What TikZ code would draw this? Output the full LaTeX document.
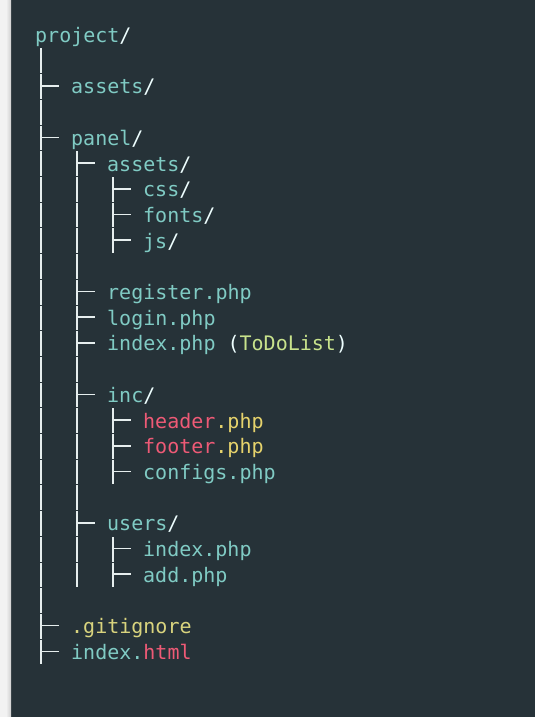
\documentclass[tikz,border=0pt]{standalone}
\usepackage{fontspec}
\setmonofont{DejaVu Sans Mono}
\definecolor{panelbg}{HTML}{263238}
\definecolor{stripbg}{HTML}{F2F2F2}
\definecolor{stripsh}{HTML}{CFCFCF}
\definecolor{tealtx}{HTML}{80CBC4}
\definecolor{whtx}{HTML}{EEFFFF}
\definecolor{redtx}{HTML}{EE5A76}
\definecolor{yeltx}{HTML}{E6D36C}
\definecolor{olitx}{HTML}{D9D47E}
\definecolor{grntx}{HTML}{C8E38C}
\definecolor{linecol}{HTML}{E6EEEE}
\newcommand\cTeal[1]{{\color{tealtx}#1}}
\newcommand\cWht[1]{{\color{whtx}#1}}
\newcommand\cRed[1]{{\color{redtx}#1}}
\newcommand\cYel[1]{{\color{yeltx}#1}}
\newcommand\cOli[1]{{\color{olitx}#1}}
\newcommand\cGrn[1]{{\color{grntx}#1}}
\begin{document}
\begin{tikzpicture}[x=1pt,y=-1pt,
  entry/.style={anchor=west, inner sep=0pt, text=tealtx,
    font=\ttfamily\fontsize{20}{24}\selectfont, text height=20pt, text depth=4pt},
  trunk/.style={draw=linecol, line width=1.6pt, dash pattern=on 24.7pt off 1pt},
  branch/.style={draw=linecol, line width=1.6pt}]
\useasboundingbox (0,0) rectangle (535,717);
% background
\fill[panelbg] (0,0) rectangle (535,717);
\fill[stripbg] (0,0) rectangle (11,717);
\shade[left color=stripbg, right color=stripsh] (6,0) rectangle (11,717);

% entries
\node[entry] (project) at (35,34.5) {\cTeal{project}\cWht{/}};
\node[entry] (assets)  at (71,85.9) {\cTeal{assets}\cWht{/}};
\node[entry] (panel)   at (71,137.3) {\cTeal{panel}\cWht{/}};
\node[entry] (passets) at (107,163.0) {\cTeal{assets}\cWht{/}};
\node[entry] (css)     at (143,188.7) {\cTeal{css}\cWht{/}};
\node[entry] (fonts)   at (143,214.4) {\cTeal{fonts}\cWht{/}};
\node[entry] (js)      at (143,240.1) {\cTeal{js}\cWht{/}};
\node[entry] (register) at (107,291.5) {\cTeal{register.php}};
\node[entry] (login)   at (107,317.2) {\cTeal{login.php}};
\node[entry] (pindex)  at (107,342.9) {\cTeal{index.php} \cWht{(}\cGrn{ToDoList}\cWht{)}};
\node[entry] (inc)     at (107,394.3) {\cTeal{inc}\cWht{/}};
\node[entry] (header)  at (143,420.0) {\cRed{header}\cYel{.php}};
\node[entry] (footer)  at (143,445.7) {\cRed{footer}\cYel{.php}};
\node[entry] (configs) at (143,471.4) {\cTeal{configs.php}};
\node[entry] (users)   at (107,522.8) {\cTeal{users}\cWht{/}};
\node[entry] (uindex)  at (143,548.5) {\cTeal{index.php}};
\node[entry] (uadd)    at (143,574.2) {\cTeal{add.php}};
\node[entry] (gitignore) at (71,625.6) {\cOli{.gitignore}};
\node[entry] (rindex)  at (71,651.3) {\cTeal{index.}\cRed{html}};

% trunk coordinates
\coordinate (t1a) at (41,48.5);   \coordinate (t1b) at (41,664.3);
\coordinate (t2a) at (77,151.3);  \coordinate (t2b) at (77,587.2);
\coordinate (t3a) at (113,177.0); \coordinate (t3b) at (113,253.1);
\coordinate (t4a) at (113,408.3); \coordinate (t4b) at (113,484.4);
\coordinate (t5a) at (113,536.8); \coordinate (t5b) at (113,587.2);

\path[trunk] (t1a) -- (t1b);
\path[trunk] (t2a) -- (t2b);
\path[trunk] (t3a) -- (t3b);
\path[trunk] (t4a) -- (t4b);
\path[trunk] (t5a) -- (t5b);

% branches
\foreach \n in {assets,panel,gitignore,rindex}
  \path[branch] (t1a |- \n.west) -- ([xshift=-12pt]\n.west);
\foreach \n in {passets,register,login,pindex,inc,users}
  \path[branch] (t2a |- \n.west) -- ([xshift=-12pt]\n.west);
\foreach \n in {css,fonts,js}
  \path[branch] (t3a |- \n.west) -- ([xshift=-12pt]\n.west);
\foreach \n in {header,footer,configs}
  \path[branch] (t4a |- \n.west) -- ([xshift=-12pt]\n.west);
\foreach \n in {uindex,uadd}
  \path[branch] (t5a |- \n.west) -- ([xshift=-12pt]\n.west);
\end{tikzpicture}
\end{document}
